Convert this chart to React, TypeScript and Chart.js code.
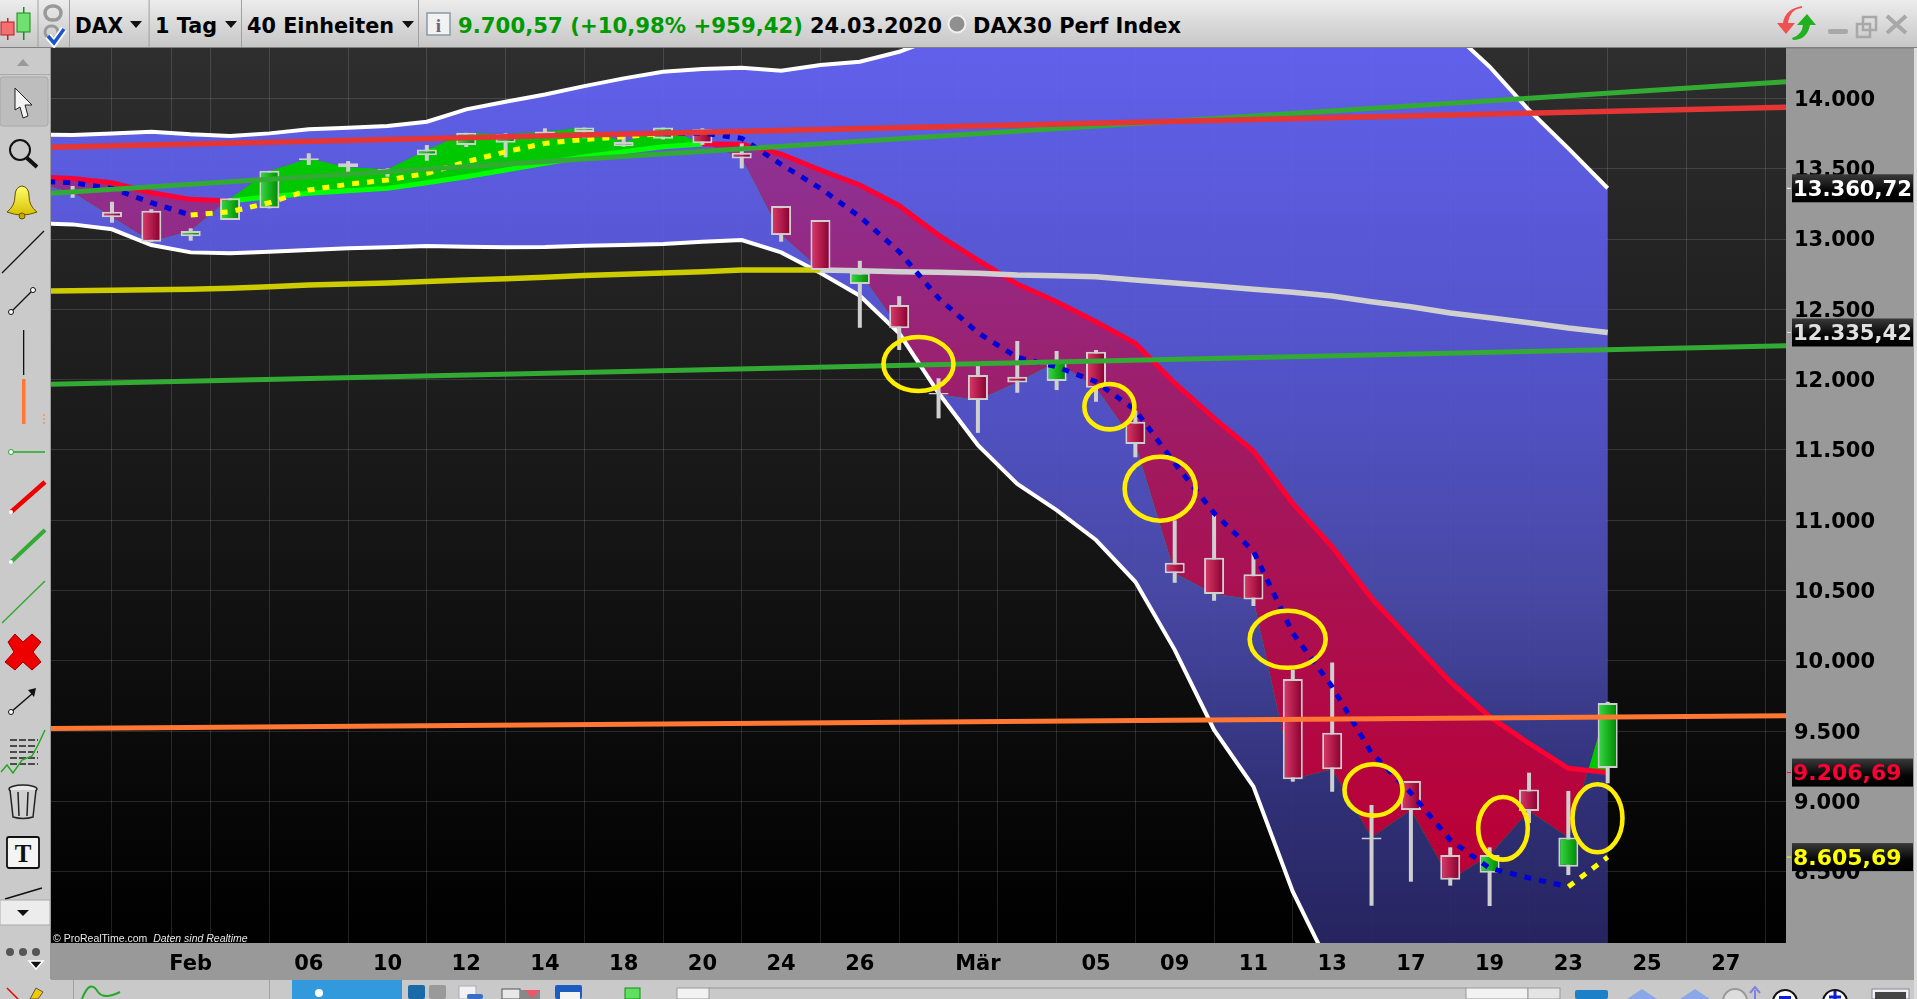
import { useEffect, useRef } from 'react';
import { Chart, registerables } from 'chart.js';

Chart.register(...registerables);

// trading days, first one sits just left of the visible window
const dates = ['28.01', '29.01', '30.01', '31.01', '03.02', '04.02', '05.02', '06.02', '07.02', '10.02', '11.02', '12.02', '13.02', '14.02', '17.02', '18.02', '19.02', '20.02', '21.02', '24.02', '25.02', '26.02', '27.02', '28.02', '02.03', '03.03', '04.03', '05.03', '06.03', '09.03', '10.03', '11.03', '12.03', '13.03', '16.03', '17.03', '18.03', '19.03', '20.03', '23.03', '24.03'];

const opens = [13420, 13336, 13194, 13201, 13020, 13135, 13218, 13560, 13538, 13478, 13595, 13668, 13684, 13745, 13760, 13660, 13713, 13780, 13613, 13234, 13135, 12680, 12530, 11905, 12033, 12020, 11990, 12199, 11701, 10698, 10734, 10616, 9872, 9490, 8730, 9147, 8620, 8495, 9087, 8537, 9240];
const highs = [13450, 13377, 13265, 13211, 13076, 13289, 13485, 13609, 13554, 13502, 13668, 13755, 13751, 13787, 13792, 13732, 13792, 13787, 13680, 13234, 13135, 12845, 12594, 12010, 12100, 12275, 12204, 12211, 11780, 11000, 11038, 10765, 9936, 9990, 8976, 9147, 8675, 8675, 9206, 9076, 9710];
const lows = [13360, 13293, 13116, 12978, 12988, 13135, 13218, 13526, 13471, 13443, 13556, 13654, 13581, 13727, 13716, 13656, 13708, 13670, 13502, 12981, 12780, 12369, 12211, 11725, 11622, 11907, 11926, 11843, 11448, 10556, 10428, 10391, 9142, 9071, 8260, 8431, 8403, 8258, 8848, 8478, 9130];
const closes = [13400, 13330, 13154, 12981, 13057, 13289, 13485, 13575, 13510, 13497, 13637, 13755, 13746, 13765, 13792, 13690, 13792, 13680, 13573, 13028, 12780, 12760, 12365, 11895, 11855, 11980, 12125, 11942, 11542, 10623, 10476, 10438, 9159, 9230, 8745, 8940, 8445, 8620, 8933, 8745, 9700.57];

// band values past the top or bottom edge are guesses, they are clipped anyway
const bandUpper = [13744, 13739, 13751, 13763, 13744, 13732, 13751, 13780, 13791, 13803, 13834, 13922, 13976, 14028, 14087, 14142, 14189, 14208, 14218, 14196, 14237, 14260, 14331, 14435, 14600, 14850, 15050, 15250, 15500, 15800, 16100, 16200, 16200, 16000, 15600, 15100, 14485, 14225, 13917, 13644, 13360.72];
const bandLower = [13113, 13104, 13069, 12957, 12905, 12898, 12910, 12922, 12934, 12941, 12950, 12945, 12941, 12943, 12952, 12957, 12964, 12981, 12993, 12905, 12758, 12597, 12329, 11905, 11535, 11259, 11073, 10860, 10563, 10079, 9510, 9107, 8360, 7790, 7200, 6800, 6500, 6300, 6300, 6500, 6900];
const movingAverage = [12628, 12632, 12636, 12640, 12643, 12650, 12660, 12673, 12680, 12687, 12698, 12708, 12718, 12729, 12740, 12750, 12759, 12767, 12780, 12780, 12780, 12775, 12767, 12763, 12756, 12744, 12739, 12732, 12708, 12687, 12666, 12643, 12621, 12595, 12554, 12518, 12474, 12440, 12405, 12367, 12335.42];
const trail = [13443, 13431, 13400, 13329, 13282, 13270, 13300, 13325, 13343, 13360, 13400, 13443, 13490, 13538, 13585, 13620, 13656, 13675, 13673, 13604, 13490, 13384, 13237, 13028, 12850, 12680, 12554, 12412, 12258, 11975, 11727, 11493, 11121, 10812, 10447, 10148, 9853, 9604, 9415, 9237, 9206.69];
const dashed = [13412, 13400, 13360, 13258, 13170, 13194, 13258, 13348, 13389, 13420, 13467, 13549, 13620, 13680, 13708, 13727, 13751, 13753, 13716, 13531, 13360, 13158, 12910, 12580, 12333, 12159, 12092, 11985, 11784, 11406, 11052, 10780, 10198, 9817, 9346, 9062, 8727, 8527, 8458, 8395, 8605.69];

// hand drawn trend lines: value at the left and right edge of the plot
const trendRed = [13652, 13936];
const trendGreenUpper = [13325, 14118];
const trendGreenLower = [11968, 12241];
const trendOrange = [9520, 9611];

const gridTicks = [1, 3, 4, 5, 7, 9, 11, 13, 15, 17, 19, 21, 23, 24, 25, 27, 29, 31, 33, 35, 37, 39, 41, 43];
const gridLabels = ['', '', 'Feb', '', '06', '10', '12', '14', '18', '20', '24', '26', '', 'Mär', '', '05', '09', '11', '13', '17', '19', '23', '25', '27'];
const priceTicks = [8500, 9000, 9500, 10000, 10500, 11000, 11500, 12000, 12500, 13000, 13500, 14000];

const priceTags = [
  { value: 13360.72, text: '13.360,72', color: '#ffffff' },
  { value: 12335.42, text: '12.335,42', color: '#e0e0e0' },
  { value: 9206.69, text: '9.206,69', color: '#ff0033' },
  { value: 8605.69, text: '8.605,69', color: '#ffff00' },
];

// the yellow rings: centre in bar / price, radii in pixels
const rings = [
  { bar: 22.49, price: 12111, rx: 35, ry: 27 },
  { bar: 27.34, price: 11808, rx: 25, ry: 22.7 },
  { bar: 28.63, price: 11225, rx: 35.5, ry: 32 },
  { bar: 31.87, price: 10154, rx: 38, ry: 28.5 },
  { bar: 34.05, price: 9083, rx: 29, ry: 25.7 },
  { bar: 37.34, price: 8810, rx: 24.8, ry: 31.3 },
  { bar: 39.74, price: 8882, rx: 25, ry: 34 },
];

const X_MIN = 0.451;
const X_MAX = 44.53;
const FONT = '"DejaVu Sans", sans-serif';

const points = (values: number[]) => values.map((y, x) => ({ x, y }));
const edgeLine = (ends: number[]) => [{ x: X_MIN, y: ends[0] }, { x: X_MAX, y: ends[1] }];

const plotBackground = {
  id: 'plotBackground',
  beforeDraw(chart: any) {
    const { ctx, chartArea: a } = chart;
    const g = ctx.createLinearGradient(0, a.top, 0, a.bottom);
    g.addColorStop(0, '#2e2e2e');
    g.addColorStop(1, '#000000');
    ctx.save();
    ctx.fillStyle = g;
    ctx.fillRect(a.left, a.top, a.right - a.left, a.bottom - a.top);
    ctx.restore();
  },
};

const ringPlugin = {
  id: 'rings',
  afterDatasetsDraw(chart: any) {
    const { ctx, scales } = chart;
    ctx.save();
    ctx.strokeStyle = '#ffee00';
    ctx.lineWidth = 4.6;
    for (const r of rings) {
      ctx.beginPath();
      ctx.ellipse(scales.x.getPixelForValue(r.bar), scales.y.getPixelForValue(r.price), r.rx, r.ry, 0, 0, Math.PI * 2);
      ctx.stroke();
    }
    ctx.restore();
  },
};

const tagPlugin = {
  id: 'priceTags',
  afterDraw(chart: any) {
    const { ctx, scales } = chart;
    ctx.save();
    ctx.font = `bold 22px ${FONT}`;
    ctx.textBaseline = 'middle';
    for (const t of priceTags) {
      const y = scales.y.getPixelForValue(t.value);
      const g = ctx.createLinearGradient(0, y - 14, 0, y + 14);
      g.addColorStop(0, '#3a3a3a');
      g.addColorStop(0.6, '#050505');
      g.addColorStop(1, '#000000');
      ctx.fillStyle = g;
      ctx.fillRect(1792, y - 14, 121, 28);
      ctx.fillStyle = t.color;
      ctx.fillRect(1787, y - 0.5, 4, 1);
      ctx.fillText(t.text, 1793, y + 2, 119);
    }
    ctx.restore();
  },
};

function PriceChart() {
  const ref = useRef<HTMLCanvasElement>(null);
  useEffect(() => {
    if (!ref.current) return;
    const ctx = ref.current.getContext('2d')!;

    const blue = ctx.createLinearGradient(0, 48, 0, 943);
    blue.addColorStop(0, 'rgba(99,99,245,0.95)');
    blue.addColorStop(0.4, 'rgba(84,84,205,0.95)');
    blue.addColorStop(0.62, 'rgba(74,74,170,0.95)');
    blue.addColorStop(0.84, 'rgba(50,50,125,0.95)');
    blue.addColorStop(1, 'rgba(40,38,100,0.95)');

    const magenta = ctx.createLinearGradient(0, 130, 0, 830);
    magenta.addColorStop(0, 'rgba(142,50,150,0.97)');
    magenta.addColorStop(0.5, 'rgba(165,22,90,0.97)');
    magenta.addColorStop(1, 'rgba(190,0,55,0.97)');

    // scales have no size yet on the first option pass
    const bodyFill = (c: any) => {
      const i = c.dataIndex;
      const up = i !== undefined && closes[i] >= opens[i];
      const x = i === undefined ? NaN : c.chart.scales.x.getPixelForValue(i);
      if (!Number.isFinite(x)) return up ? '#109010' : '#b01048';
      const g = c.chart.ctx.createLinearGradient(x - 9, 0, x + 9, 0);
      g.addColorStop(0, up ? '#35d843' : '#d93a68');
      g.addColorStop(1, up ? '#008a00' : '#8a0030');
      return g;
    };

    const flat = { pointRadius: 0, tension: 0 };
    const chart = new Chart(ref.current, {
      type: 'line',
      data: {
        labels: dates,
        datasets: [
          { label: 'Band oben', data: points(bandUpper), borderColor: '#ffffff', borderWidth: 4, fill: { target: 1, above: blue, below: blue }, order: 10, ...flat },
          { label: 'Band unten', data: points(bandLower), borderColor: '#ffffff', borderWidth: 4, order: 5.9, ...flat },
          {
            label: 'Durchschnitt', data: points(movingAverage), borderColor: '#d0d0d0', borderWidth: 5.5, order: 5.8, ...flat,
            segment: { borderColor: (s: any) => (s.p0DataIndex < 20 ? '#cccc00' : '#d0d0d0') },
          },
          { label: 'Schluss', data: points(closes), borderColor: 'transparent', borderWidth: 0, order: 7, ...flat },
          {
            label: 'Trail', data: points(trail), borderColor: '#ff0033', borderWidth: 5, fill: { target: 3, above: magenta, below: '#00c800' }, order: 6, ...flat,
            segment: { borderColor: (s: any) => (s.p0DataIndex >= 5 && s.p0DataIndex < 17 ? '#00ff00' : '#ff0033') },
          },
          {
            type: 'bar', label: 'Docht', data: lows.map((l, x) => ({ x, y: [l, highs[x]] })),
            backgroundColor: '#cfcfcf', grouped: false, barPercentage: 1, maxBarThickness: 4, borderWidth: 0, order: 5,
          },
          {
            type: 'bar', label: 'Kerze', data: opens.map((o, x) => ({ x, y: [o, closes[x]] })),
            backgroundColor: bodyFill, borderColor: '#cfcfcf', borderWidth: 2, borderSkipped: false, inflateAmount: 0,
            grouped: false, barPercentage: 1, maxBarThickness: 20, order: 4,
          },
          {
            label: 'Gestrichelt', data: points(dashed), borderColor: '#0000d8', borderWidth: 5, borderDash: [7, 8], order: 3, ...flat,
            segment: {
              borderColor: (s: any) => ((s.p0DataIndex >= 4 && s.p0DataIndex < 16) || s.p0DataIndex >= 39 ? '#ffff00' : '#0000d8'),
              borderDash: [7, 8],
            },
          },
          { label: 'Trend grün', data: edgeLine(trendGreenUpper), borderColor: '#33aa33', borderWidth: 5, order: 2, ...flat },
          { label: 'Trend rot', data: edgeLine(trendRed), borderColor: '#e53535', borderWidth: 5.5, order: 1.5, ...flat },
          { label: 'Trend grün 2', data: edgeLine(trendGreenLower), borderColor: '#33aa33', borderWidth: 5, order: 2, ...flat },
          { label: 'Trend orange', data: edgeLine(trendOrange), borderColor: '#ff7733', borderWidth: 5, order: 1, ...flat },
        ],
      } as any,
      options: {
        responsive: false,
        animation: false,
        events: [],
        layout: { padding: { left: 51, top: 48, right: 0, bottom: 20 } },
        plugins: { legend: { display: false }, tooltip: { enabled: false } },
        scales: {
          x: {
            type: 'linear',
            min: X_MIN,
            max: X_MAX,
            offset: false,
            border: { display: false },
            grid: { color: 'rgba(255,255,255,0.13)', lineWidth: 1, drawTicks: false },
            ticks: {
              autoSkip: false,
              maxRotation: 0,
              padding: 9,
              color: '#000000',
              font: { family: FONT, size: 21, weight: 'bold' },
              callback: (v: any) => gridLabels[gridTicks.indexOf(v)] ?? '',
            },
            afterBuildTicks: (s: any) => { s.ticks = gridTicks.map((value) => ({ value })); },
            afterFit: (s: any) => { s.height = 36; },
          },
          y: {
            position: 'right',
            min: 7995,
            max: 14358,
            border: { display: false },
            grid: { color: 'rgba(255,255,255,0.13)', lineWidth: 1, drawTicks: false },
            ticks: {
              padding: 8,
              labelOffset: 2,
              color: '#000000',
              font: { family: FONT, size: 21, weight: 'bold' },
              callback: (v: any) => String(v).replace(/\B(?=(\d{3})+$)/g, '.'),
            },
            afterBuildTicks: (s: any) => { s.ticks = priceTicks.map((value) => ({ value })); },
            afterFit: (s: any) => { s.width = 131; },
          },
        },
      },
      plugins: [plotBackground, ringPlugin, tagPlugin],
    } as any);
    return () => chart.destroy();
  }, []);
  return <canvas ref={ref} width={1917} height={999} style={{ position: 'absolute', left: 0, top: 0, display: 'block' }} />;
}

// window chrome around the plot, plain svg shapes
function Chrome() {
  const label = { fontFamily: FONT, fontWeight: 700, fontSize: 22 };
  const sep = '#a0a0a0';
  return (
    <svg width={1917} height={999} style={{ position: 'absolute', left: 0, top: 0, display: 'block' }}>
      <defs>
        <linearGradient id="topBar" x1="0" y1="0" x2="0" y2="1">
          <stop offset="0" stopColor="#ececec" />
          <stop offset="1" stopColor="#c6c6c6" />
        </linearGradient>
        <linearGradient id="bell" x1="0" y1="0" x2="0" y2="1">
          <stop offset="0" stopColor="#ffff70" />
          <stop offset="1" stopColor="#d8c000" />
        </linearGradient>
      </defs>
      <rect width={1917} height={999} fill="#999999" />
      <rect x={0} y={0} width={1917} height={48} fill="url(#topBar)" />
      <rect x={0} y={47} width={1917} height={1.5} fill="#808080" />
      <rect x={0} y={48} width={51} height={951} fill="#cacaca" />
      <rect x={50} y={48} width={1.5} height={931} fill="#999999" />
      <rect x={0} y={980} width={1917} height={19} fill="#c9c9c9" />
      <rect x={1914} y={48} width={3} height={951} fill="#dcdcdc" />

      {/* top bar */}
      {[37.5, 69, 148.6, 241, 418].map((x) => <rect key={x} x={x} y={0} width={1} height={47} fill={sep} />)}
      <rect x={7} y={18} width={1.5} height={22} fill="#cc2020" />
      <rect x={1} y={22} width={13} height={13} fill="#f47070" stroke="#b02020" />
      <rect x={23} y={7} width={1.5} height={33} fill="#109010" />
      <rect x={17} y={13} width={13} height={19} fill="#70e070" stroke="#109010" />
      <rect x={45} y={6} width={16} height={14} rx={7} fill="none" stroke="#999" strokeWidth={3.5} />
      <rect x={45} y={26} width={13} height={12} rx={6} fill="none" stroke="#999" strokeWidth={3} />
      <path d="M48 36 L54 43 L64 29" fill="none" stroke="#fff" strokeWidth={7} />
      <path d="M48 36 L54 43 L64 29" fill="none" stroke="#1c55c8" strokeWidth={3.5} />
      <text x={75} y={33} {...label} fill="#000" textLength={48} lengthAdjust="spacingAndGlyphs">DAX</text>
      <path d="M130 21 h12 l-6 7 z" fill="#111" />
      <text x={155} y={33} {...label} fill="#000" textLength={62} lengthAdjust="spacingAndGlyphs">1 Tag</text>
      <path d="M225 21 h12 l-6 7 z" fill="#111" />
      <text x={247} y={33} {...label} fill="#000" textLength={147} lengthAdjust="spacingAndGlyphs">40 Einheiten</text>
      <path d="M402 21 h12 l-6 7 z" fill="#111" />
      <rect x={427} y={13} width={23} height={22} fill="#f2f2f2" stroke="#8a9aa5" strokeWidth={1.5} />
      <text x={438.5} y={32} fontFamily="Liberation Serif" fontWeight={700} fontSize={19} fill="#667" textAnchor="middle">i</text>
      <text x={458} y={33} {...label} fill="#009900" textLength={345} lengthAdjust="spacingAndGlyphs">9.700,57 (+10,98% +959,42)</text>
      <text x={810} y={33} {...label} fill="#000" textLength={132} lengthAdjust="spacingAndGlyphs">24.03.2020</text>
      <circle cx={957} cy={24} r={8.5} fill="#8f8f8f" stroke="#f0f0f0" strokeWidth={2} />
      <text x={973} y={33} {...label} fill="#000" textLength={208} lengthAdjust="spacingAndGlyphs">DAX30 Perf Index</text>
      <path d="M1802 8 q-12 1 -14 15 h7 l-9 11 l-9 -11 h6 q2 -14 19 -17 z" fill="#f05050" />
      <path d="M1793 40 q14 0 17 -15 h6 l-9 -11 l-10 11 h6 q-1 10 -11 13 z" fill="#20b020" />
      <rect x={1828} y={29} width={20} height={5} rx={2} fill="#a8a8a8" />
      <rect x={1857} y={24} width={13} height={13} fill="none" stroke="#a8a8a8" strokeWidth={2.5} />
      <rect x={1863} y={17} width={13} height={13} fill="none" stroke="#a8a8a8" strokeWidth={2.5} />
      <path d="M1887 16 L1906 33 M1906 16 L1887 33" stroke="#a8a8a8" strokeWidth={4} />

      {/* side bar */}
      <path d="M17 66 L23 59 L29 66 z" fill="#999" />
      <rect x={0} y={74} width={50} height={1} fill="#aaa" />
      <rect x={0} y={77} width={48} height={49} rx={3} fill="#bdbdbd" stroke="#a8a8a8" />
      <path d="M15 88 L32 105 L25 105 L28 116 L23 118 L20 107 L15 110 z" fill="#f4f4f4" stroke="#222" />
      <circle cx={20} cy={150} r={10} fill="none" stroke="#111" strokeWidth={2} />
      <path d="M27 158 L37 167" stroke="#111" strokeWidth={4} />
      <path d="M7 212 q8 -6 8 -16 q0 -9 7 -10 q7 1 7 10 q0 10 8 16 q-15 6 -30 0 z" fill="url(#bell)" stroke="#665500" />
      <circle cx={22} cy={216} r={3} fill="#c8a800" stroke="#665500" />
      <path d="M2 273 L44 231" stroke="#111" strokeWidth={1.3} />
      <path d="M11 312 L33 290" stroke="#111" strokeWidth={1.3} />
      <circle cx={11} cy={312} r={2.5} fill="#fff" stroke="#111" />
      <circle cx={33} cy={290} r={2.5} fill="#fff" stroke="#111" />
      <rect x={23} y={330} width={1.3} height={45} fill="#111" />
      <rect x={22} y={379} width={3.5} height={45} fill="#ff7733" />
      <path d="M44 414 V425" stroke="#ff7733" strokeDasharray="2 2" />
      <path d="M11 452 H45" stroke="#22aa22" strokeWidth={1.3} />
      <circle cx={11} cy={452} r={2.5} fill="#fff" stroke="#22aa22" />
      <path d="M11 512 L45 482" stroke="#ee0000" strokeWidth={4.5} />
      <circle cx={11} cy={512} r={2} fill="#fff" />
      <path d="M11 562 L45 530" stroke="#33aa33" strokeWidth={4} />
      <circle cx={11} cy={562} r={2} fill="#fff" />
      <path d="M2 623 L45 581" stroke="#33aa33" strokeWidth={1.5} />
      <path d="M8 642 L15 634 L23 642 L32 634 L41 642 L33 652 L41 662 L32 670 L23 662 L15 670 L5 662 L14 652 z" fill="#ee0000" stroke="#990000" />
      <path d="M11 712 L33 693" stroke="#111" strokeWidth={1.5} />
      <path d="M36 688 L28 690 L34 697 z" fill="#111" />
      <circle cx={11} cy={712} r={2.5} fill="#fff" stroke="#111" />
      <path d="M10 740 H38 M10 746 H38 M10 752 H38 M10 758 H38 M10 764 H38" stroke="#222" strokeWidth={1.5} strokeDasharray="7 2" />
      <path d="M1 772 L7 765 L13 773 L22 760 L32 756 L38 745 L45 730" fill="none" stroke="#22aa22" strokeWidth={1.5} />
      <ellipse cx={23} cy={789} rx={14} ry={4} fill="#e8e8e8" stroke="#222" strokeWidth={1.5} />
      <path d="M10 790 L13 817 Q23 820 33 817 L36 790 M18 792 L19 816 M28 792 L27 816" fill="#d0d0d0" stroke="#222" strokeWidth={1.5} />
      <rect x={7} y={837} width={32} height={31} rx={2} fill="#f4f4f4" stroke="#111" strokeWidth={1.8} />
      <text x={23} y={862} fontFamily="Liberation Serif" fontWeight={700} fontSize={25} fill="#111" textAnchor="middle">T</text>
      <path d="M5 899 L42 888" stroke="#111" strokeWidth={1.5} />
      <rect x={0} y={900} width={50} height={25} fill="#ececec" stroke="#aaa" />
      <path d="M17 910 H29 L23 916 z" fill="#111" />
      <circle cx={10} cy={952} r={4} fill="#555" />
      <circle cx={23} cy={952} r={4} fill="#555" />
      <circle cx={36} cy={952} r={4} fill="#555" />
      <path d="M29 961 H43 L36 969 z" fill="#111" stroke="#fff" strokeWidth={1.5} />
      <path d="M7 988 L18 999" stroke="#ee0000" strokeWidth={1.5} />
      <path d="M30 999 L36 988 L43 992 L38 999 z" fill="#f2c800" stroke="#555" />

      {/* bottom bar, cut off by the window edge */}
      <rect x={73} y={980} width={1} height={19} fill={sep} />
      <rect x={269} y={980} width={1} height={19} fill={sep} />
      <path d="M82 999 Q90 978 98 992 Q104 1000 120 992" fill="none" stroke="#22aa22" strokeWidth={2} />
      <rect x={292} y={980} width={110} height={19} fill="#3399dd" />
      <circle cx={319} cy={993} r={4} fill="#fff" />
      <rect x={408} y={985} width={17} height={14} rx={2} fill="#1a6aa8" />
      <rect x={429} y={985} width={17} height={14} rx={2} fill="#9a9a9a" />
      <rect x={459} y={986} width={17} height={13} fill="#f2f2f2" stroke="#aab" />
      <rect x={467} y={994} width={16} height={5} rx={2} fill="#3a6fc8" />
      <rect x={502} y={989} width={18} height={10} fill="#e8e8e8" stroke="#555" />
      <rect x={520} y={990} width={20} height={9} fill="#888" />
      <path d="M525 990 H540 L532 998 z" fill="#ee5566" />
      <rect x={555} y={985} width={27} height={14} rx={2} fill="#1c5cc0" />
      <rect x={560} y={992} width={20} height={7} fill="#f4f4f4" />
      <rect x={625} y={988} width={15} height={11} fill="#60e060" stroke="#109010" />
      <rect x={677} y={988} width={32} height={11} fill="#f2f2f2" stroke="#999" />
      <rect x={709} y={987.5} width={757} height={1} fill="#999" />
      <rect x={1466} y={988} width={62} height={11} fill="#f2f2f2" stroke="#999" />
      <rect x={1528} y={988} width={32} height={11} fill="#e4e4e4" stroke="#999" />
      <rect x={1575} y={990} width={33} height={9} rx={2} fill="#1c80c8" />
      <path d="M1627 999 L1642 989 L1657 999 z" fill="#8aa8e8" />
      <path d="M1680 999 L1695 989 L1710 999 z" fill="#8aa8e8" />
      <circle cx={1735} cy={1001} r={12} fill="#ddd" stroke="#999" strokeWidth={2} />
      <path d="M1755 999 V990 M1750 993 L1755 987 L1760 993" fill="none" stroke="#8080e0" strokeWidth={2} />
      <circle cx={1785} cy={1002} r={12} fill="#fff" stroke="#111" strokeWidth={2} />
      <rect x={1779} y={996} width={12} height={3} fill="#1020d0" />
      <circle cx={1835} cy={1002} r={12} fill="#fff" stroke="#111" strokeWidth={2} />
      <path d="M1829 997 H1841 M1835 991 V999" stroke="#1020d0" strokeWidth={3} />
      <rect x={1872} y={989} width={37} height={10} fill="#f0f0f0" stroke="#889" />
      <rect x={1875} y={992} width={31} height={7} fill="#444" />
    </svg>
  );
}

export default function App() {
  return (
    <div style={{ position: 'fixed', left: 0, top: 0, width: 1917, height: 999, overflow: 'hidden', background: '#999' }}>
      <Chrome />
      <PriceChart />
      <div style={{ position: 'absolute', left: 53, top: 932, color: '#e8e8e8', fontFamily: '"Liberation Sans", sans-serif', fontSize: 10.5, whiteSpace: 'nowrap' }}>
        © ProRealTime.com&nbsp; <i>Daten sind Realtime</i>
      </div>
    </div>
  );
}
